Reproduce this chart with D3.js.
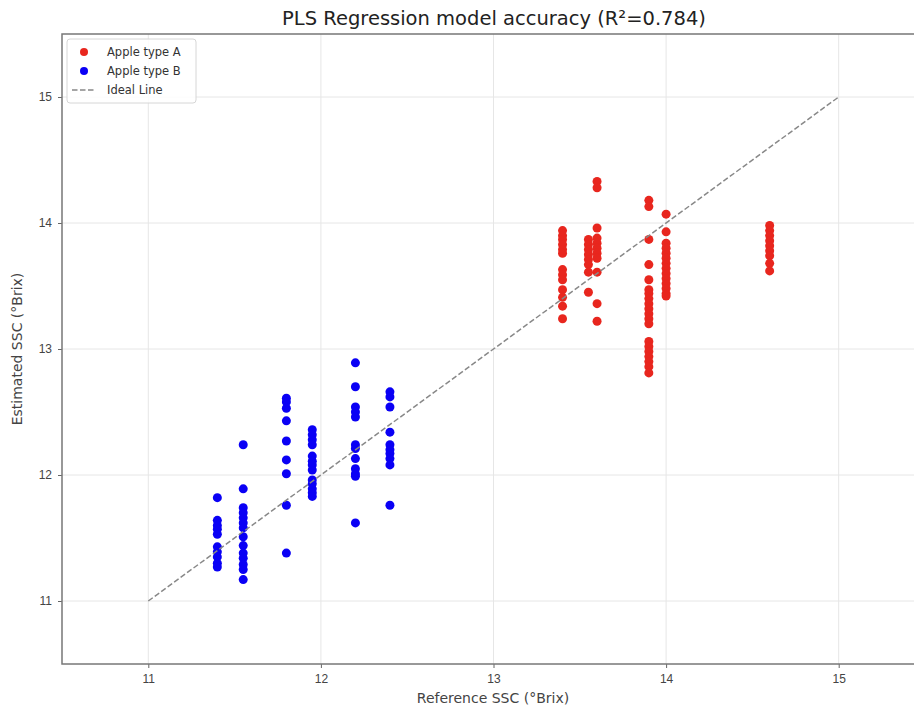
<!DOCTYPE html>
<html>
<head>
<meta charset="utf-8">
<script src="https://cdn.jsdelivr.net/npm/d3@7"></script>
<style>
  body { margin: 0; background: #fff; }
  svg { font-family: "DejaVu Sans", sans-serif; }
</style>
</head>
<body>
<svg id="chart" width="914" height="709"></svg>
<script>
// reference SSC values (x) and the estimated SSC readings at each one (y)
var typeARef = [13.4, 13.55, 13.6, 13.9, 14.0, 14.6];
var typeAEst = [
    [13.94, 13.90, 13.87, 13.83, 13.79, 13.76, 13.63, 13.59, 13.55, 13.47, 13.41, 13.34, 13.24],
    [13.87, 13.83, 13.79, 13.75, 13.71, 13.67, 13.61, 13.45],
    [14.33, 14.28, 13.96, 13.88, 13.84, 13.80, 13.76, 13.72, 13.61, 13.36, 13.22],
    [14.18, 14.13, 13.87, 13.67, 13.55, 13.47, 13.44, 13.40, 13.36, 13.32, 13.28, 13.24, 13.20,
     13.06, 13.02, 12.98, 12.94, 12.90, 12.86, 12.81],
    [14.07, 13.93, 13.84, 13.80, 13.76, 13.72, 13.68, 13.64, 13.60, 13.56, 13.52, 13.48, 13.44, 13.42],
    [13.98, 13.94, 13.90, 13.86, 13.82, 13.78, 13.74, 13.68, 13.62]
];

var typeBRef = [11.4, 11.55, 11.8, 11.95, 12.2, 12.4];
var typeBEst = [
    [11.82, 11.64, 11.60, 11.57, 11.53, 11.43, 11.39, 11.35, 11.30, 11.27],
    [12.24, 11.89, 11.74, 11.70, 11.66, 11.62, 11.58, 11.51, 11.44, 11.38, 11.34, 11.29, 11.25, 11.17],
    [12.61, 12.58, 12.53, 12.43, 12.27, 12.12, 12.01, 11.76, 11.38],
    [12.36, 12.32, 12.28, 12.24, 12.15, 12.11, 12.08, 12.04, 11.96, 11.93, 11.89, 11.86, 11.83],
    [12.89, 12.70, 12.54, 12.50, 12.46, 12.24, 12.21, 12.13, 12.05, 12.01, 11.99, 11.62],
    [12.66, 12.62, 12.54, 12.34, 12.24, 12.20, 12.17, 12.13, 12.08, 11.76]
];

var idealLine = [11, 15];
var tickValues = [11, 12, 13, 14, 15];
var legendLabels = ["Apple type A", "Apple type B", "Ideal Line"];

var svg = d3.select('#chart');
var plotLeft = 62, plotRight = 925, plotTop = 34, plotBottom = 664;

var x = d3.scaleLinear().domain([10.5, 15.5]).range([plotLeft, plotRight]),
    y = d3.scaleLinear().domain([10.5, 15.5]).range([plotBottom, plotTop]);

function flatten(refs, ests) {
    var pts = [];
    refs.forEach(function(r, i) {
        ests[i].forEach(function(e) { pts.push({ ref: r, est: e }); });
    });
    return pts;
}

// grid
var grid = svg.append('g').attr('class', 'grid');
grid.selectAll('.gx').data(tickValues).enter().append('line')
    .attr('x1', function(d) { return x(d); }).attr('x2', function(d) { return x(d); })
    .attr('y1', plotTop).attr('y2', plotBottom)
    .style('stroke', '#e6e6e6').style('stroke-width', 1);
grid.selectAll('.gy').data(tickValues).enter().append('line')
    .attr('y1', function(d) { return y(d); }).attr('y2', function(d) { return y(d); })
    .attr('x1', plotLeft).attr('x2', plotRight)
    .style('stroke', '#e6e6e6').style('stroke-width', 1);

// points
svg.append('g').selectAll('circle').data(flatten(typeARef, typeAEst)).enter().append('circle')
    .attr('cx', function(d) { return x(d.ref); })
    .attr('cy', function(d) { return y(d.est); })
    .attr('r', 4.5)
    .style('fill', '#e8261e');

svg.append('g').selectAll('circle').data(flatten(typeBRef, typeBEst)).enter().append('circle')
    .attr('cx', function(d) { return x(d.ref); })
    .attr('cy', function(d) { return y(d.est); })
    .attr('r', 4.5)
    .style('fill', '#0a00f5');

// ideal line
svg.append('line')
    .attr('x1', x(idealLine[0])).attr('y1', y(idealLine[0]))
    .attr('x2', x(idealLine[1])).attr('y2', y(idealLine[1]))
    .style('stroke', '#888').style('stroke-width', 1.5)
    .style('stroke-dasharray', '5.5,2.5');

// axes
var xAxis = d3.axisBottom(x).tickValues(tickValues).tickFormat(d3.format('d')).tickSize(4).tickPadding(6),
    yAxis = d3.axisLeft(y).tickValues(tickValues).tickFormat(d3.format('d')).tickSize(4).tickPadding(6);

var gx = svg.append('g').attr('transform', 'translate(0,' + plotBottom + ')').call(xAxis);
var gy = svg.append('g').attr('transform', 'translate(' + plotLeft + ',0)').call(yAxis);
[gx, gy].forEach(function(g) {
    g.select('.domain').remove();
    g.selectAll('line').style('stroke', '#666');
    g.selectAll('text').style('font-size', '12px').style('fill', '#444');
});

// frame
svg.append('rect')
    .attr('x', plotLeft).attr('y', plotTop)
    .attr('width', plotRight - plotLeft).attr('height', plotBottom - plotTop)
    .style('fill', 'none').style('stroke', '#777').style('stroke-width', 1.5);

// labels
svg.append('text').attr('x', 494).attr('y', 25)
    .attr('text-anchor', 'middle').style('font-size', '19.5px').style('fill', '#222')
    .text('PLS Regression model accuracy (R²=0.784)');
svg.append('text').attr('x', 493).attr('y', 703)
    .attr('text-anchor', 'middle').style('font-size', '14px').style('fill', '#444')
    .text('Reference SSC (°Brix)');
svg.append('text')
    .attr('transform', 'translate(22,' + (plotTop + plotBottom) / 2 + ') rotate(-90)')
    .attr('text-anchor', 'middle').style('font-size', '14px').style('fill', '#444')
    .text('Estimated SSC (°Brix)');

// legend
var legend = svg.append('g').attr('transform', 'translate(67,39)');
legend.append('rect').attr('width', 129).attr('height', 64).attr('rx', 3)
    .style('fill', 'rgba(255,255,255,0.85)').style('stroke', '#d6d6d6');
legend.append('circle').attr('cx', 17).attr('cy', 13).attr('r', 4).style('fill', '#e8261e');
legend.append('circle').attr('cx', 17).attr('cy', 32).attr('r', 4).style('fill', '#0a00f5');
legend.append('line').attr('x1', 5).attr('x2', 29).attr('y1', 51).attr('y2', 51)
    .style('stroke', '#888').style('stroke-width', 1.5).style('stroke-dasharray', '5.5,2.5');
legend.selectAll('text').data(legendLabels).enter().append('text')
    .attr('x', 40).attr('y', function(d, i) { return 17 + i * 19; })
    .style('font-size', '11.5px').style('fill', '#333')
    .text(function(d) { return d; });
</script>
</body>
</html>
